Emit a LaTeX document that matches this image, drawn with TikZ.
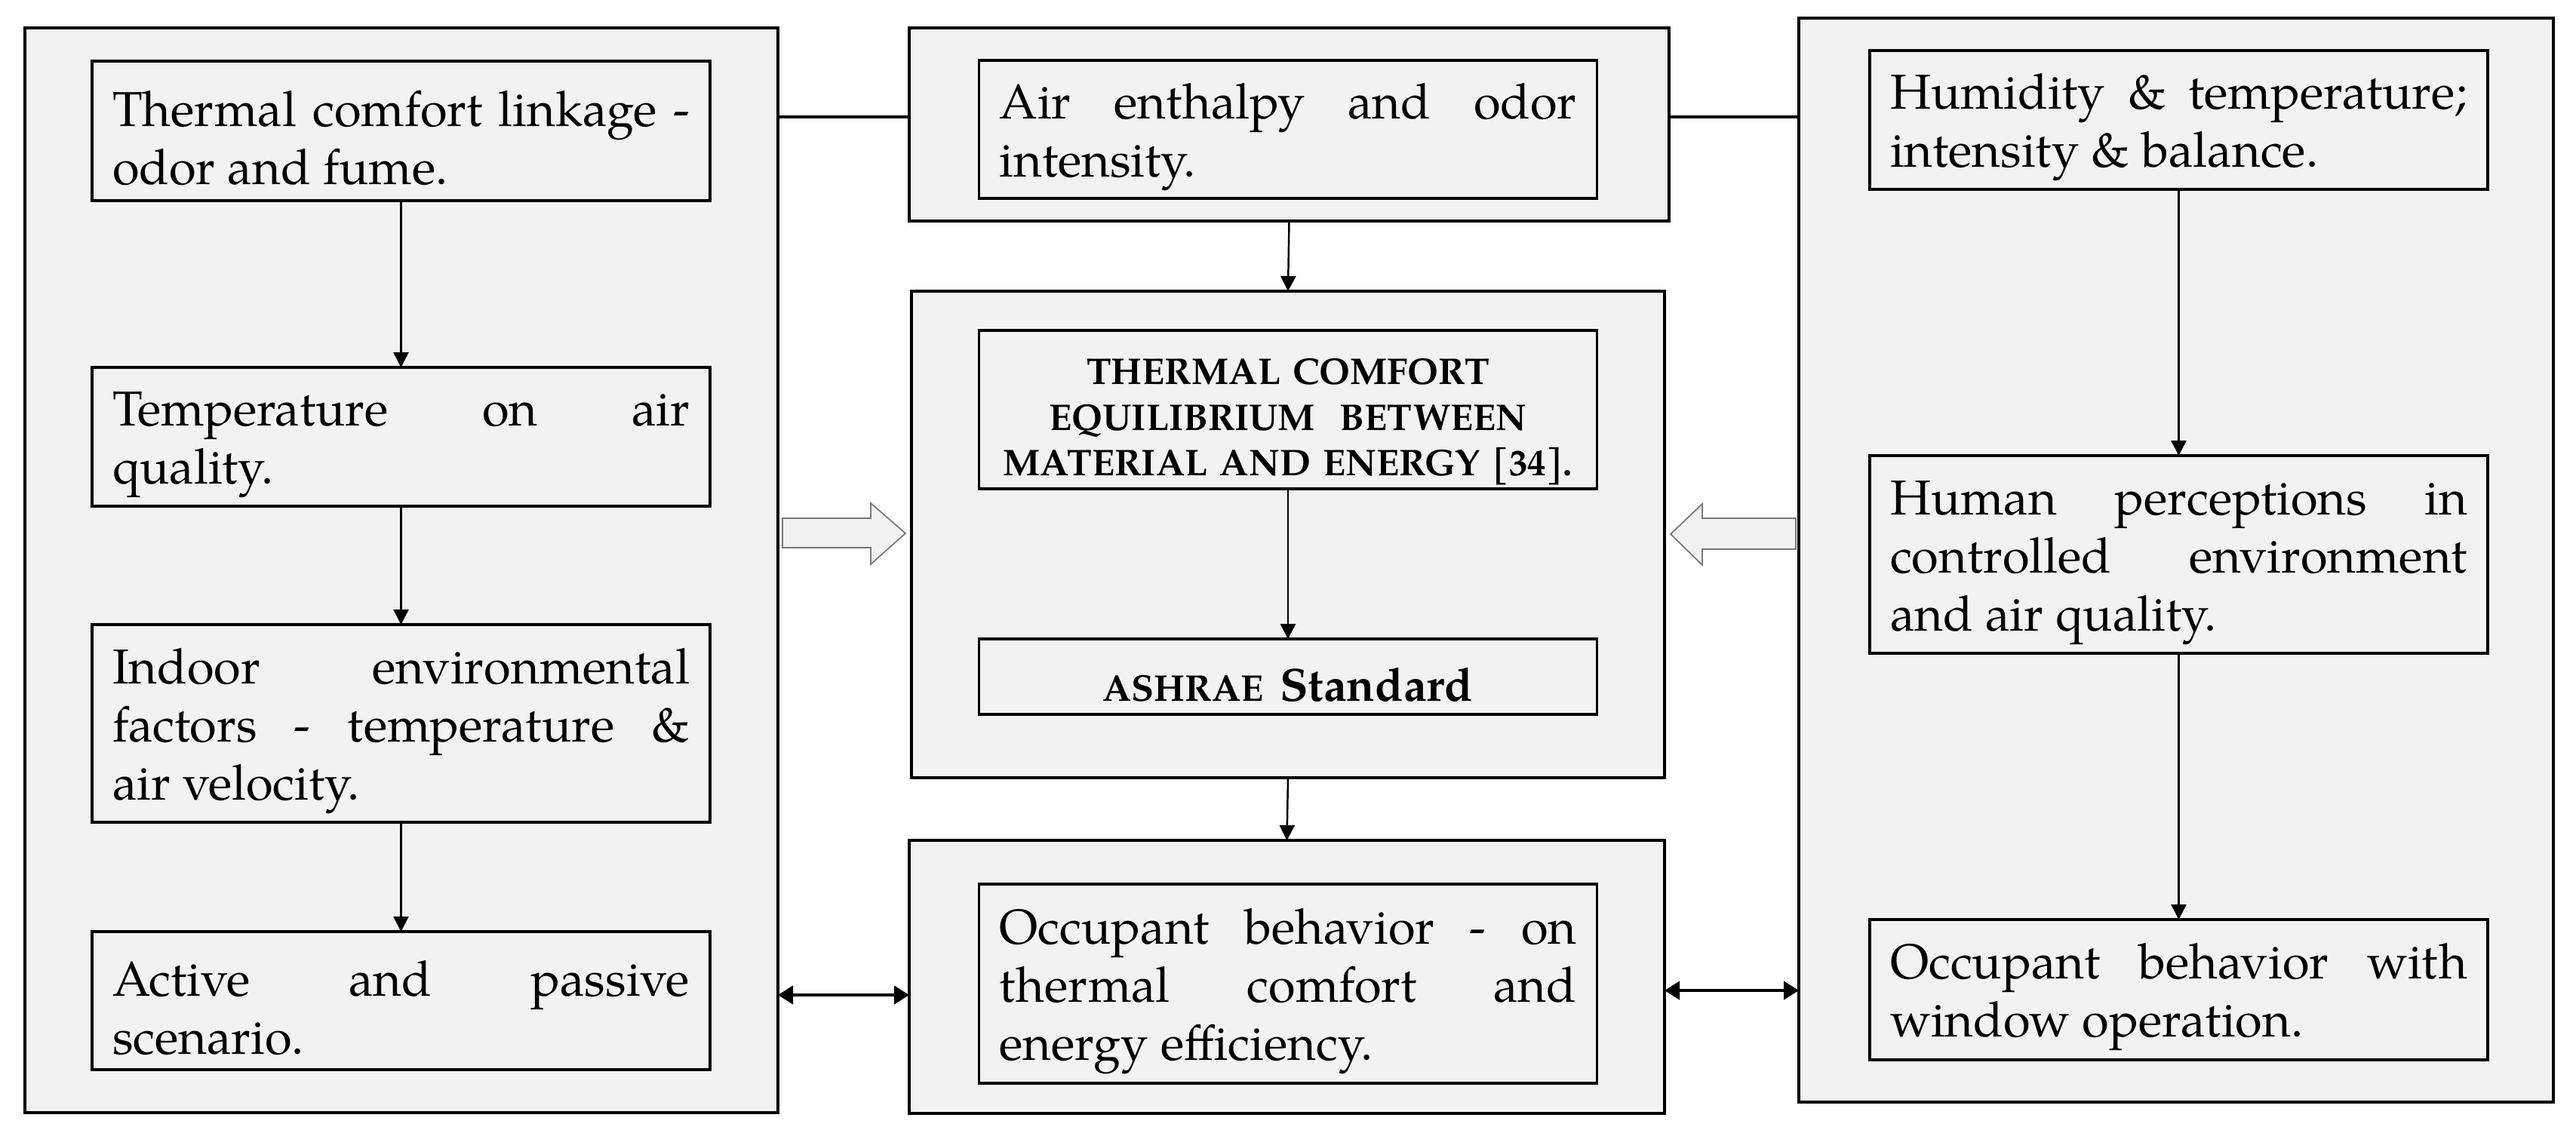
\documentclass[tikz,border=0pt]{standalone}
\usepackage{fontspec}
\setmainfont{TeX Gyre Pagella}
\usetikzlibrary{arrows.meta,calc}
\definecolor{boxgray}{RGB}{242,242,242}
\definecolor{hollowline}{RGB}{120,120,120}
\begin{document}
\begin{tikzpicture}[
  outerbox/.style={draw=black, line width=1.1pt, fill=boxgray, inner sep=0pt, outer sep=0pt},
  innerbox/.style={draw=black, line width=1.1pt, fill=boxgray, text width=7.65cm, inner xsep=0.27cm, inner ysep=0pt, outer sep=0pt, align=justify, font=\fontsize{18.5}{21.9}\selectfont, execute at begin node={\rule{0pt}{19pt}}},
  conn/.style={line width=0.7pt, -{Triangle[length=0.2cm,width=0.2cm]}},
  dconn/.style={line width=1.2pt, {Triangle[length=0.2cm,width=0.24cm]}-{Triangle[length=0.2cm,width=0.24cm]}},
  plain/.style={line width=0.9pt},
  hollow/.style={draw=hollowline, line width=0.5pt, fill=boxgray}
]
\useasboundingbox (0,0) rectangle (34.14,-14.97);

% outer containers
\node[outerbox, minimum width=9.98cm, minimum height=14.38cm] (L) at (5.32,-7.56) {};
\node[outerbox, minimum width=10.07cm, minimum height=2.56cm] (MT) at (17.085,-1.65) {};
\node[outerbox, minimum width=9.98cm, minimum height=6.45cm] (MM) at (17.07,-7.085) {};
\node[outerbox, minimum width=10.01cm, minimum height=3.62cm] (MB) at (17.055,-12.95) {};
\node[outerbox, minimum width=10.0cm, minimum height=14.37cm] (R) at (28.84,-7.425) {};

% left column
\node[innerbox, minimum height=1.85cm] (L1) at (5.315,-1.735) {Thermal comfort linkage - odor and fume.};
\node[innerbox, minimum height=1.84cm] (L2) at (5.315,-5.79) {Temperature on air\linebreak quality.};
\node[innerbox, minimum height=2.62cm] (L3) at (5.315,-9.59) {Indoor environmental\linebreak factors - temperature \&\linebreak air velocity.};
\node[innerbox, minimum height=1.83cm] (L4) at (5.315,-13.265) {Active and passive\linebreak scenario.};

% middle column
\node[innerbox, minimum height=1.83cm] (MT1) at (17.07,-1.715) {Air enthalpy and odor\linebreak intensity.};
\node[innerbox, minimum height=2.10cm, text width=8.0cm, inner xsep=0.095cm, align=center, font=\fontsize{14}{17.3}\selectfont\bfseries, execute at begin node={\rule{0pt}{14.5pt}}] (MM1) at (17.07,-5.43) {THERMAL COMFORT\\ EQUILIBRIUM\ \ BETWEEN\\ MATERIAL AND ENERGY [34].};
\node[innerbox, minimum height=1.00cm, align=center, execute at begin node={\rule{0pt}{18pt}}] (MM2) at (17.07,-8.97) {\bfseries\fontsize{14}{16}\selectfont ASHRAE \fontsize{17.5}{19}\selectfont Standard};
\node[innerbox, minimum height=2.64cm] (MB1) at (17.07,-13.04) {Occupant behavior - on\linebreak thermal comfort and\linebreak energy efficiency.};

% right column
\node[innerbox, minimum height=1.84cm] (R1) at (28.875,-1.59) {Humidity \& temperature;\linebreak intensity \& balance.};
\node[innerbox, minimum height=2.62cm] (R2) at (28.875,-7.35) {Human perceptions in\linebreak controlled environment\linebreak and air quality.};
\node[innerbox, minimum height=1.86cm] (R3) at (28.875,-13.12) {Occupant behavior with\linebreak window operation.};

% arrows inside columns
\draw[conn] (L1.south) -- (L2.north);
\draw[conn] (L2.south) -- (L3.north);
\draw[conn] (L3.south) -- (L4.north);
\draw[conn] (R1.south) -- (R2.north);
\draw[conn] (R2.south) -- (R3.north);
\draw[conn] (MM1.south) -- (MM2.north);
\draw[conn] (MT.south) -- (MM.north);
\draw[conn] (MM.south) -- (MB.north);

% top connecting lines
\coordinate (tl) at (12.05,-1.55);
\coordinate (tr) at (22.12,-1.55);
\draw[plain] (L.east |- tl) -- (tl);
\draw[plain] (tr) -- (R.west |- tr);

% bottom double arrows
\coordinate (bl) at (12.05,-13.19);
\coordinate (br) at (22.06,-13.13);
\draw[dconn] (L.east |- bl) -- (bl);
\draw[dconn] (br) -- (R.west |- br);

% hollow block arrows
\path[hollow] (10.37,-6.87) -- (11.54,-6.87) -- (11.54,-6.67) -- (12.00,-7.07) -- (11.54,-7.48) -- (11.54,-7.26) -- (10.37,-7.26) -- cycle;
\path[hollow] (23.80,-6.87) -- (22.56,-6.87) -- (22.56,-6.68) -- (22.14,-7.08) -- (22.56,-7.49) -- (22.56,-7.28) -- (23.80,-7.28) -- cycle;
\end{tikzpicture}
\end{document}
